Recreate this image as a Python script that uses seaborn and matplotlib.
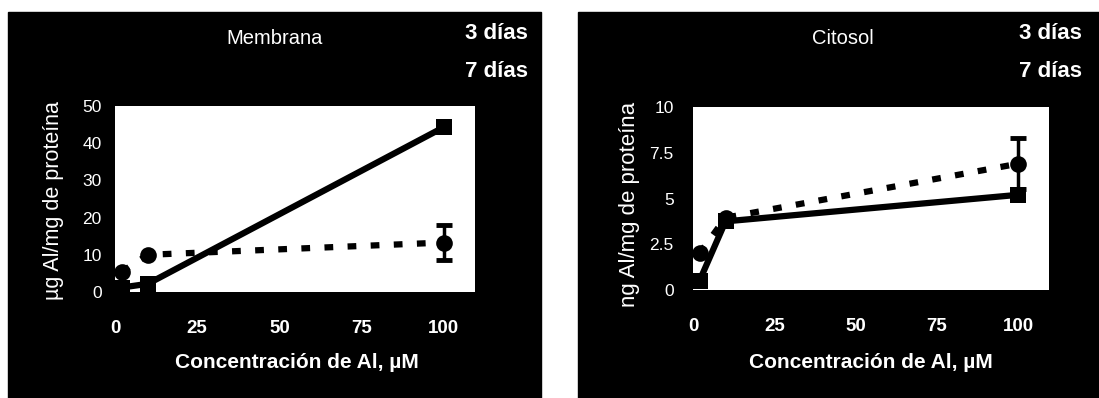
#! /usr/bin/env python3
import seaborn as sns
import pandas as pd
import matplotlib.pyplot as plt
from matplotlib.patches import Rectangle
from matplotlib.ticker import FormatStrFormatter

# Figure size in pixels (dpi 100)
W, H = 1099, 398

# Al concentration, uM
CONC = [2, 10, 100]
DAYS = ["3 días", "7 días"]

# Membrana, ug Al/mg de proteina
MEM_3D = [1.2, 2.2, 44.3]
MEM_7D = [5.4, 10.0, 13.3]
MEM_7D_ERR = 4.7

# Citosol, ng Al/mg de proteina
CIT_3D = [0.5, 3.75, 5.2]
CIT_7D = [2.0, 3.95, 6.9]
CIT_7D_ERR = 1.4

XTICKS = [0, 25, 50, 75, 100]
MEM_YTICKS = [0, 10, 20, 30, 40, 50]
CIT_YTICKS = [0, 2.5, 5, 7.5, 10]


def px_axes(fig, x0, y0, x1, y1):
    # pixel box (top-left origin) -> figure axes
    return fig.add_axes([x0 / W, 1 - y1 / H, (x1 - x0) / W, (y1 - y0) / H])


def to_axes(box, x, y):
    x0, y0, x1, y1 = box
    return (x - x0) / (x1 - x0), (y1 - y) / (y1 - y0)


def panel(fig, box, vals3, vals7, err7, ylim, yticks, title, title_xy,
          ylabel, ylabel_xy, ylabel_size, xlabel, xlabel_xy, legend_xy, ypad):
    ax = px_axes(fig, *box)
    df = pd.DataFrame({
        'conc': CONC * 2,
        'val': vals3 + vals7,
        'dias': [DAYS[0]] * len(CONC) + [DAYS[1]] * len(CONC),
    })
    sns.lineplot(data=df, x='conc', y='val', style='dias',
                 markers={DAYS[0]: 's', DAYS[1]: 'o'},
                 dashes={DAYS[0]: '', DAYS[1]: (1.4, 2.3)},
                 color='black', linewidth=4.5, markersize=12,
                 markeredgewidth=0, ax=ax)
    # error bar only on the last 7 day point
    ax.errorbar(CONC[-1], vals7[-1], yerr=err7, fmt='none', ecolor='black',
                elinewidth=2.5, capsize=6, capthick=3.5)

    ax.set(xlim=(0, 109.5), ylim=ylim, xticks=XTICKS, yticks=yticks)
    ax.yaxis.set_major_formatter(FormatStrFormatter('%g'))
    sns.despine(ax=ax, left=True, bottom=True)
    ax.tick_params(length=0, colors='white')
    ax.tick_params(axis='x', pad=20, labelsize=13.5)
    ax.tick_params(axis='y', pad=ypad, labelsize=12.5)
    for lab in ax.get_xticklabels():
        lab.set_fontweight('bold')

    ax.set_xlabel(xlabel, color='white', fontsize=15, fontweight='bold',
                  va='center')
    ax.xaxis.set_label_coords(*to_axes(box, *xlabel_xy))
    ax.set_ylabel(ylabel, color='white', fontsize=ylabel_size, va='center',
                  ha='center')
    ax.yaxis.set_label_coords(*to_axes(box, *ylabel_xy))
    tx, ty = to_axes(box, *title_xy)
    ax.set_title(title, color='white', fontsize=14.5, x=tx, y=ty,
                 va='center', pad=0)

    sns.move_legend(ax, 'upper right',
                    bbox_to_anchor=(legend_xy[0] / W, 1 - legend_xy[1] / H),
                    bbox_transform=fig.transFigure, title=None, frameon=False,
                    labelcolor='white', prop={'weight': 'bold', 'size': 16},
                    borderaxespad=0, borderpad=0, labelspacing=0.75,
                    handlelength=2.5)
    return ax


def main():
    sns.set_theme(style='white')
    plt.rcParams['font.family'] = ['Liberation Sans', 'DejaVu Sans']

    fig = plt.figure(figsize=(W / 100, H / 100), dpi=100)
    fig.patch.set_facecolor('white')

    # black backgrounds behind each panel
    for x0, x1 in [(8, 541), (578, 1099)]:
        fig.add_artist(Rectangle((x0 / W, 0), (x1 - x0) / W, 1 - 12 / H,
                                 transform=fig.transFigure, color='black',
                                 zorder=-1))

    panel(fig, (115, 106, 475, 292), MEM_3D, MEM_7D, MEM_7D_ERR,
          (0, 50), MEM_YTICKS, 'Membrana', (275, 39),
          'µg Al/mg de proteína', (54, 201), 15.5,
          'Concentración de Al, µM', (297, 362), (528, 23), 9.5)
    panel(fig, (693, 107, 1049, 290), CIT_3D, CIT_7D, CIT_7D_ERR,
          (0, 10), CIT_YTICKS, 'Citosol', (843, 38),
          'ng Al/mg de proteína', (629, 204), 16,
          'Concentración de Al, µM', (871, 362), (1082, 23), 14)

    fig.savefig('out.png', dpi=100)


if __name__ == "__main__":
    main()
